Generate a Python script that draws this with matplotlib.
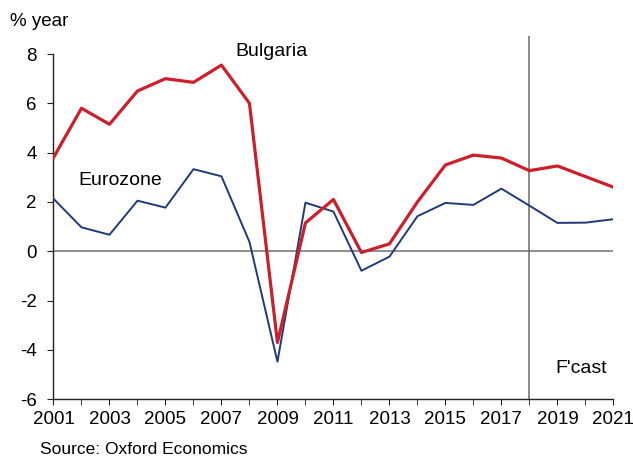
import matplotlib
matplotlib.use("Agg")
import matplotlib.pyplot as plt
from matplotlib.ticker import MultipleLocator

plt.rcParams['font.family'] = ['Liberation Sans', 'DejaVu Sans']
plt.rcParams['axes.unicode_minus'] = False

years = list(range(2001, 2022))
bulgaria = [3.8, 5.8, 5.15, 6.5, 7.0, 6.85, 7.55, 6.0, -3.7, 1.15, 2.1, -0.05, 0.3,
            2.0, 3.5, 3.9, 3.78, 3.27, 3.46, 3.03, 2.6]
eurozone = [2.13, 0.97, 0.67, 2.05, 1.77, 3.33, 3.04, 0.38, -4.48, 1.97, 1.61, -0.79, -0.22,
            1.42, 1.96, 1.88, 2.54, 1.85, 1.15, 1.16, 1.3]
y_ticks = [-6, -4, -2, 0, 2, 4, 6, 8]
x_labels = list(range(2001, 2022, 2))
forecast_year = 2018

fig = plt.figure(figsize=(6.33, 4.57), dpi=100)
ax = fig.add_axes([0.0845, 0.1265, 0.9690 - 0.0845, 0.9212 - 0.1265])

ax.axhline(0, color='#7a7a7a', lw=1.2, zorder=1)
ax.axvline(forecast_year, color='#6a6a6a', lw=1.1, zorder=1)

ax.plot(years, eurozone, color='#1f3a7a', lw=1.4, zorder=3)
ax.plot(years, bulgaria, color='#cc1f2b', lw=2.3, zorder=4)

ax.set_xlim(2001, 2021)
ax.set_ylim(-6, 8.73)
ax.set_yticks(y_ticks)
ax.set_xticks(x_labels)
ax.xaxis.set_minor_locator(MultipleLocator(1))

for s in ['top', 'right']:
    ax.spines[s].set_visible(False)
ax.spines['left'].set_bounds(-6, 8)
for s in ['left', 'bottom']:
    ax.spines[s].set_color('#222222')
    ax.spines[s].set_linewidth(1.0)

ax.tick_params(axis='both', which='both', direction='out', color='#222222', labelsize=13.5)
ax.tick_params(axis='y', length=4, pad=8)
ax.tick_params(axis='x', which='major', length=4.5, pad=4)
ax.tick_params(axis='x', which='minor', length=4.5)

ax.text(2008.77, 8.1, 'Bulgaria', fontsize=14, ha='center', va='center')
ax.text(2003.4, 2.85, 'Eurozone', fontsize=14, ha='center', va='center')
ax.text(2019.84, -4.75, "F'cast", fontsize=14, ha='center', va='center')

fig.text(10 / 633, 1 - 22 / 457, '% year', fontsize=13.5, ha='left', va='center')
fig.text(40 / 633, 1 - 450 / 457, 'Source: Oxford Economics', fontsize=12.5, ha='left', va='center')

fig.savefig('out.png', dpi=100)
